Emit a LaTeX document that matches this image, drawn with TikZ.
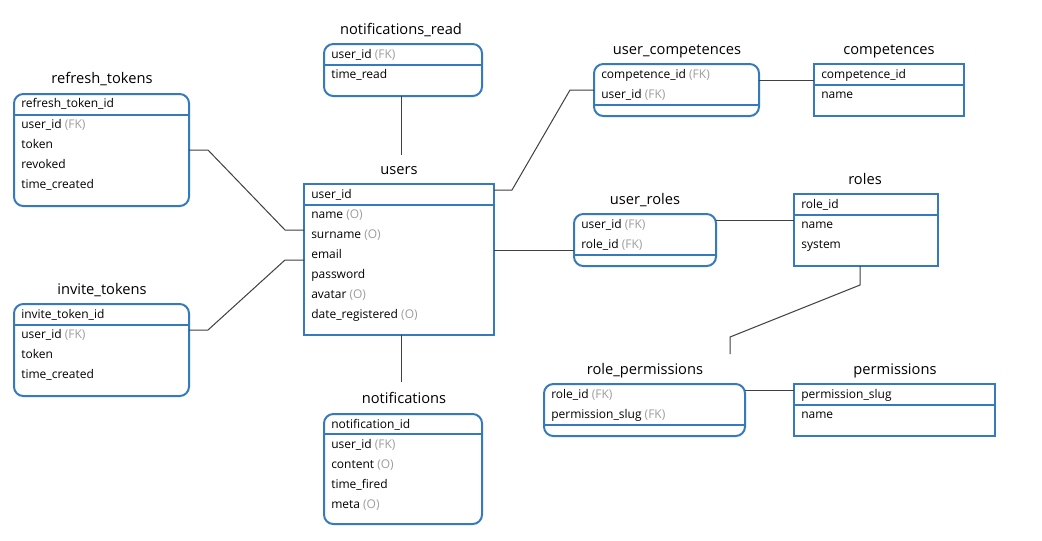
\documentclass[tikz,border=0pt]{standalone}
\usepackage{fontspec}
\setmainfont{Open Sans}
\usetikzlibrary{calc}
\definecolor{boxblue}{RGB}{52,122,188}
\definecolor{fkgray}{RGB}{158,158,158}
\definecolor{conncol}{RGB}{64,64,64}
\newcommand\fkt[1]{\textcolor{fkgray}{#1}}
\begin{document}
\begin{tikzpicture}[x=0.75pt,y=-0.75pt,
 tbl/.style={draw=boxblue, line width=1.5pt, anchor=north west, inner sep=0pt, outer sep=0pt},
 rnd/.style={rounded corners=7pt},
 sz/.style 2 args={minimum width={#1*0.75pt}, minimum height={#2*0.75pt}},
 row/.style={anchor=base west, inner sep=0pt, font=\fontsize{9}{11}\selectfont, text=black},
 ttl/.style={anchor=base, inner sep=0pt, font=\fontsize{11}{13}\selectfont},
 div/.style={draw=boxblue, line width=1.5pt},
 conn/.style={draw=conncol, line width=0.75pt}]
\useasboundingbox[fill=white] (0,0) rectangle (1042,540);

% refresh_tokens
\node[tbl,rnd,sz={175}{112}] (rt) at (14,94) {};
\draw[div] (rt.west |- 0,115) -- (rt.east |- 0,115);
\node[ttl] (rtt) at (102,83) {refresh\_tokens};
\node[row] (rt1) at (21,107) {refresh\_token\_id};
\node[row] (rt2) at (21,128) {user\_id \fkt{(FK)}};
\node[row] (rt3) at (21,148) {token};
\node[row] (rt4) at (21,168) {revoked};
\node[row] (rt5) at (21,188) {time\_created};

% invite_tokens
\node[tbl,rnd,sz={175}{92}] (it) at (14,304) {};
\draw[div] (it.west |- 0,325) -- (it.east |- 0,325);
\node[ttl] (itt) at (102,294) {invite\_tokens};
\node[row] (it1) at (21,318) {invite\_token\_id};
\node[row] (it2) at (21,338) {user\_id \fkt{(FK)}};
\node[row] (it3) at (21,358) {token};
\node[row] (it4) at (21,378) {time\_created};

% users
\node[tbl,sz={190}{151}] (us) at (304,184) {};
\draw[div] (us.west |- 0,205) -- (us.east |- 0,205);
\node[ttl] (ust) at (399,174) {users};
\node[row] (us1) at (311,198) {user\_id};
\node[row] (us2) at (311,218) {name \fkt{(O)}};
\node[row] (us3) at (311,238) {surname \fkt{(O)}};
\node[row] (us4) at (311,258) {email};
\node[row] (us5) at (311,278) {password};
\node[row] (us6) at (311,298) {avatar \fkt{(O)}};
\node[row] (us7) at (311,318) {date\_registered \fkt{(O)}};

% notifications_read
\node[tbl,rnd,sz={158}{52}] (nr) at (324,44) {};
\draw[div] (nr.west |- 0,65) -- (nr.east |- 0,65);
\node[ttl] (nrt) at (401,34) {notifications\_read};
\node[row] (nr1) at (331,58) {user\_id \fkt{(FK)}};
\node[row] (nr2) at (331,78) {time\_read};

% notifications
\node[tbl,rnd,sz={158}{110}] (nt) at (324,414) {};
\draw[div] (nt.west |- 0,434) -- (nt.east |- 0,434);
\node[ttl] (ntt) at (404,403) {notifications};
\node[row] (nt1) at (331,428) {notification\_id};
\node[row] (nt2) at (331,448) {user\_id \fkt{(FK)}};
\node[row] (nt3) at (331,468) {content \fkt{(O)}};
\node[row] (nt4) at (331,488) {time\_fired};
\node[row] (nt5) at (331,508) {meta \fkt{(O)}};

% user_competences
\node[tbl,rnd,sz={165}{52}] (uc) at (594,64) {};
\draw[div] (uc.west |- 0,105) -- (uc.east |- 0,105);
\node[ttl] (uct) at (677,54) {user\_competences};
\node[row] (uc1) at (601,78) {competence\_id \fkt{(FK)}};
\node[row] (uc2) at (601,98) {user\_id \fkt{(FK)}};

% competences
\node[tbl,sz={150}{52}] (cp) at (814,64) {};
\draw[div] (cp.west |- 0,85) -- (cp.east |- 0,85);
\node[ttl] (cpt) at (889,54) {competences};
\node[row] (cp1) at (821,78) {competence\_id};
\node[row] (cp2) at (821,98) {name};

% user_roles
\node[tbl,rnd,sz={142}{52}] (ur) at (574,214) {};
\draw[div] (ur.west |- 0,255) -- (ur.east |- 0,255);
\node[ttl] (urt) at (645,204) {user\_roles};
\node[row] (ur1) at (581,228) {user\_id \fkt{(FK)}};
\node[row] (ur2) at (581,248) {role\_id \fkt{(FK)}};

% roles
\node[tbl,sz={144}{72}] (rl) at (794,194) {};
\draw[div] (rl.west |- 0,215) -- (rl.east |- 0,215);
\node[ttl] (rlt) at (865,184) {roles};
\node[row] (rl1) at (801,208) {role\_id};
\node[row] (rl2) at (801,228) {name};
\node[row] (rl3) at (801,248) {system};

% role_permissions
\node[tbl,rnd,sz={201}{52}] (rp) at (544,384) {};
\draw[div] (rp.west |- 0,425) -- (rp.east |- 0,425);
\node[ttl] (rpt) at (645,374) {role\_permissions};
\node[row] (rp1) at (551,398) {role\_id \fkt{(FK)}};
\node[row] (rp2) at (551,418) {permission\_slug \fkt{(FK)}};

% permissions
\node[tbl,sz={201}{52}] (pm) at (794,384) {};
\draw[div] (pm.west |- 0,405) -- (pm.east |- 0,405);
\node[ttl] (pmt) at (895,374) {permissions};
\node[row] (pm1) at (801,398) {permission\_slug};
\node[row] (pm2) at (801,418) {name};

% connectors
\coordinate (nrend) at (401,155);
\coordinate (ntend) at (401,382);
\coordinate (rpend) at (730,354);
\draw[conn] (rt.east |- 0,150) -- ++(19,0) -- ($(us.west |- 0,230)+(-19,0)$) -- (us.west |- 0,230);
\draw[conn] (it.east |- 0,330) -- ++(19,0) -- ($(us.west |- 0,260)+(-19,0)$) -- (us.west |- 0,260);
\draw[conn] (nr.south -| nrend) -- (nrend);
\draw[conn] (us.south -| ntend) -- (ntend);
\draw[conn] (us.east |- 0,190) -- ++(18,0) -- ($(uc.west |- 0,90)+(-24,0)$) -- (uc.west |- 0,90);
\draw[conn] (us.east |- 0,250) -- (ur.west |- 0,250);
\draw[conn] (uc.east |- 0,80) -- (cp.west |- 0,80);
\draw[conn] (ur.east |- 0,220) -- (rl.west |- 0,220);
\draw[conn] (rl.south -| 860,0) -- ++(0,19) -- ($(rpend)+(0,-17)$) -- (rpend);
\draw[conn] (rp.east |- 0,390) -- (pm.west |- 0,390);
\end{tikzpicture}
\end{document}
